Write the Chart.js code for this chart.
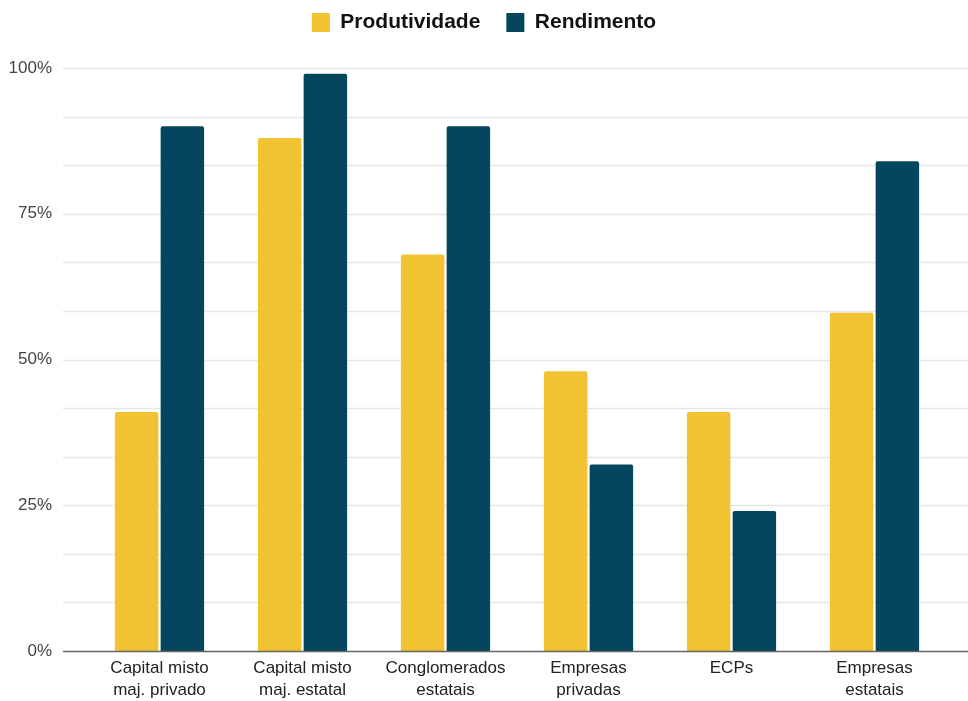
<!DOCTYPE html>
<html>
<head>
<meta charset="utf-8">
<script src="https://cdn.jsdelivr.net/npm/chart.js@4"></script>
<style>
  html, body { margin: 0; padding: 0; background: #fff; }
  #wrap { width: 968px; height: 701px; }
</style>
</head>
<body>
<div id="wrap"><canvas id="chartContainer"></canvas></div>
<script>
// categorias do eixo x (duas linhas cada)
const categorias = [
    ['Capital misto', 'maj. privado'],
    ['Capital misto', 'maj. estatal'],
    ['Conglomerados', 'estatais'],
    ['Empresas', 'privadas'],
    ['ECPs'],
    ['Empresas', 'estatais']
];
const produtividade = [41, 88, 68, 48, 41, 58];
const rendimento = [90, 99, 90, 32, 24, 84];
const yTicks = [0, 25, 50, 75, 100];

const FONT = "'Liberation Sans', Arial, sans-serif";

// linhas de grade horizontais indo de ponta a ponta do canvas
const gridFull = {
    id: 'gridFull',
    beforeDatasetsDraw(chart) {
        const ctx = chart.ctx;
        const y = chart.scales.y;
        ctx.save();
        y.ticks.forEach(function(t, i) {
            if (i === 0) return;
            const py = Math.round(y.getPixelForValue(t.value)) + 0.5;
            ctx.strokeStyle = '#e6e6e6';
            ctx.lineWidth = 1.5;
            ctx.beginPath();
            ctx.moveTo(63, py);
            ctx.lineTo(chart.width, py);
            ctx.stroke();
        });
        ctx.restore();
    },
    afterDatasetsDraw(chart) {
        const ctx = chart.ctx;
        const py = Math.round(chart.scales.y.getPixelForValue(0)) + 0.5;
        ctx.save();
        ctx.strokeStyle = '#666';
        ctx.lineWidth = 1.5;
        ctx.beginPath();
        ctx.moveTo(63, py);
        ctx.lineTo(chart.width, py);
        ctx.stroke();
        ctx.restore();
    }
};

// espaço extra abaixo da legenda
const legendMargin = {
    id: 'legendMargin',
    beforeInit(chart) {
        const fit = chart.legend.fit;
        chart.legend.fit = function() {
            fit.bind(chart.legend)();
            this.height += 25;
        };
    }
};

var ctx = document.getElementById('chartContainer').getContext('2d');

window.myBarChart = new Chart(ctx, {
    type: 'bar',
    data: {
        labels: categorias,
        datasets: [{
            label: 'Produtividade',
            data: produtividade,
            backgroundColor: '#f1c232',
            borderRadius: 2,
            borderSkipped: 'bottom'
        }, {
            label: 'Rendimento',
            data: rendimento,
            backgroundColor: '#05455e',
            borderRadius: 2,
            borderSkipped: 'bottom'
        }]
    },
    options: {
        responsive: true,
        maintainAspectRatio: false,
        animation: false,
        layout: {
            padding: { top: -14, right: 0, bottom: 0, left: 0 }
        },
        categoryPercentage: 0.64,
        barPercentage: 0.95,
        scales: {
            x: {
                afterFit: function(scale) { scale.height = 50; },
                grid: { display: false, drawTicks: false },
                border: { display: false },
                ticks: {
                    color: '#222',
                    padding: 6,
                    maxRotation: 0,
                    autoSkip: false,
                    font: { family: FONT, size: 17, lineHeight: 1.3 }
                }
            },
            y: {
                min: 0,
                max: 100,
                afterFit: function(scale) { scale.width = 88; },
                grid: { display: false, drawTicks: false },
                border: { display: false },
                ticks: {
                    count: 13,
                    padding: 36,
                    color: '#444',
                    font: { family: FONT, size: 17 },
                    callback: function(value) {
                        const r = Math.round(value);
                        if (Math.abs(value - r) < 0.01 && yTicks.indexOf(r) >= 0) {
                            return r + '%';
                        }
                        return '';
                    }
                }
            },
            // eixo vazio só para reservar a margem direita
            y2: {
                position: 'right',
                afterFit: function(scale) { scale.width = 22; },
                grid: { display: false, drawTicks: false },
                border: { display: false },
                ticks: { display: false }
            }
        },
        plugins: {
            legend: {
                display: true,
                position: 'top',
                labels: {
                    boxWidth: 18,
                    boxHeight: 19,
                    padding: 26,
                    color: '#111',
                    font: { family: FONT, size: 21, weight: 'bold' }
                }
            },
            tooltip: { enabled: false }
        }
    },
    plugins: [gridFull, legendMargin]
});
</script>
</body>
</html>
